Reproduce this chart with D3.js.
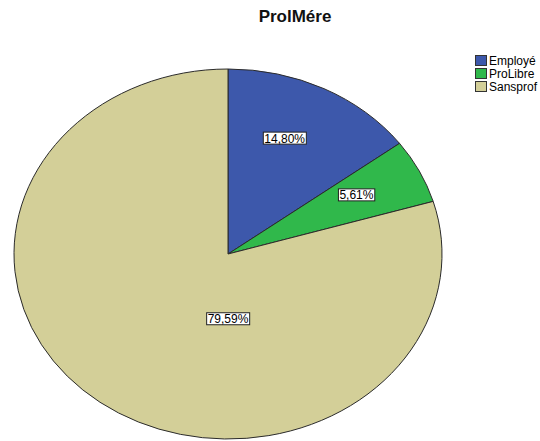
<!DOCTYPE html>
<html>
<head>
<meta charset="utf-8">
<script src="https://cdn.jsdelivr.net/npm/d3@7"></script>
<style>
  body { margin: 0; background: #fff; }
  svg { display: block; font-family: "Liberation Sans", Arial, sans-serif; }
</style>
</head>
<body>
<div id="chart"></div>
<script>
const categories = ["Employé", "ProLibre", "Sansprof"];
const percents = [14.80, 5.61, 79.59];
const colors = ["#3d58ab", "#30b84b", "#d3cf98"];
const title = "ProlMére";

const width = 540, height = 441;
const cx = 228, cy = 254;   // pie centre
const rx = 214, ry = 185;   // ellipse radii

const svg = d3.select("#chart").append("svg")
    .attr("width", width)
    .attr("height", height);

svg.append("text")
    .attr("x", 295)
    .attr("y", 22)
    .attr("text-anchor", "middle")
    .style("font-size", "17px")
    .style("font-weight", "bold")
    .style("fill", "#111")
    .text(title);

const data = categories.map((c, i) => ({ name: c, value: percents[i], color: colors[i] }));

const pie = d3.pie().sort(null).value(d => d.value);
const arcs = pie(data);
const arc = d3.arc().innerRadius(0).outerRadius(rx);

// the pie is drawn as a circle and squashed vertically
const pieG = svg.append("g")
    .attr("transform", `translate(${cx},${cy}) scale(1,${ry / rx})`);

pieG.selectAll("path")
    .data(arcs)
    .enter().append("path")
    .attr("d", arc)
    .attr("fill", d => d.data.color)
    .attr("stroke", "#2b2b2b")
    .attr("stroke-width", 1)
    .attr("vector-effect", "non-scaling-stroke");

// label position in screen space
function labelPos(d) {
    const span = d.endAngle - d.startAngle;
    let a, f;
    if (span > Math.PI) { a = Math.PI; f = 0.35; }
    else { a = d.startAngle + span * 0.43; f = 0.68; }
    return [cx + rx * f * Math.sin(a), cy - ry * f * Math.cos(a)];
}

const fmt = v => v.toFixed(2).replace(".", ",") + "%";

const labels = svg.append("g").selectAll("g")
    .data(arcs)
    .enter().append("g")
    .attr("transform", d => `translate(${labelPos(d)})`);

labels.append("rect");
labels.append("text")
    .attr("text-anchor", "middle")
    .attr("dy", "0.37em")
    .style("font-size", "12px")
    .style("fill", "#000")
    .text(d => fmt(d.data.value));

labels.each(function() {
    const g = d3.select(this);
    const bb = g.select("text").node().getBBox();
    g.select("rect")
        .attr("x", bb.x - 1)
        .attr("y", -6)
        .attr("width", bb.width + 2)
        .attr("height", 12)
        .attr("fill", "#fff")
        .attr("stroke", "#222")
        .attr("stroke-width", 1);
});

// legend
const legend = svg.append("g").attr("transform", "translate(475,55)");
const rows = legend.selectAll("g")
    .data(data)
    .enter().append("g")
    .attr("transform", (d, i) => `translate(0,${i * 13})`);

rows.append("rect")
    .attr("x", 0.5)
    .attr("y", 0.5)
    .attr("width", 11)
    .attr("height", 10)
    .attr("fill", d => d.color)
    .attr("stroke", "#333")
    .attr("stroke-width", 1);

rows.append("text")
    .attr("x", 14)
    .attr("y", 10)
    .style("font-size", "12px")
    .style("fill", "#000")
    .text(d => d.name);
</script>
</body>
</html>
